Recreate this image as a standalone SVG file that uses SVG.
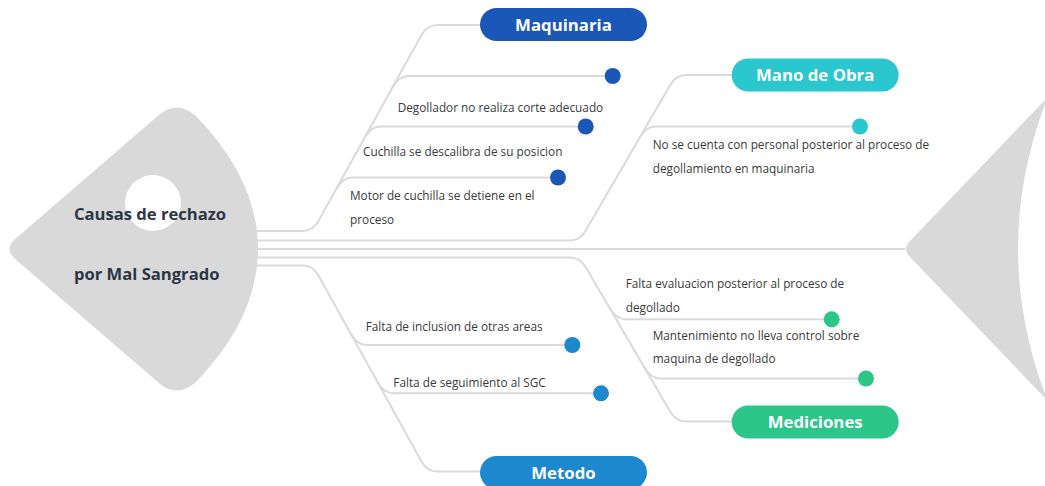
<svg xmlns="http://www.w3.org/2000/svg" width="1045" height="486" viewBox="0 0 1045 486">
  <style>
    .conn { fill: none; stroke: #dadada; stroke-width: 2; }
    .shape { fill: #d9d9d9; }
    .lbl { font-family: "Open Sans", "Liberation Sans", sans-serif; font-size: 11.8px; fill: #3a3a3a; }
    .title { font-family: "Open Sans", "Liberation Sans", sans-serif; font-size: 16.6px; font-weight: bold; fill: #2c3646; }
    .pilltxt { font-family: "Open Sans", "Liberation Sans", sans-serif; font-size: 16.8px; font-weight: bold; fill: #ffffff; text-anchor: middle; }
    .c1 { fill: #1b57b6; }
    .c2 { fill: #2ac7cf; }
    .c3 { fill: #2cc689; }
    .c4 { fill: #1e88cf; }
  </style>
  <rect width="1045" height="486" fill="#ffffff"/>

  <g id="connectors">
    <!-- spine -->
    <path class="conn" d="M 240,249 H 905"/>
    <!-- Maquinaria -->
    <path class="conn" d="M 240,231 H 302 Q 313,231 318.5,221 L 421.5,35 Q 427,25 438,25 H 482"/>
    <path class="conn" d="M 392,88 Q 398.8,76 408,76 H 612"/>
    <path class="conn" d="M 364.2,138.5 Q 370.8,126.5 380,126.5 H 585"/>
    <path class="conn" d="M 336,189.5 Q 342.6,177.5 352,177.5 H 557"/>
    <!-- Mano de Obra -->
    <path class="conn" d="M 240,240.5 H 570 Q 580,240.5 585.8,230.5 L 670.2,85 Q 676,75 686,75 H 733"/>
    <path class="conn" d="M 639.2,138.5 Q 646.1,126.5 655,126.5 H 859"/>
    <!-- Mediciones -->
    <path class="conn" d="M 240,257.5 H 570 Q 580,257.5 585.9,267.5 L 670.1,411.5 Q 676,421.5 686,421.5 H 733"/>
    <path class="conn" d="M 609.2,307.3 Q 616.2,319.3 625,319.3 H 831"/>
    <path class="conn" d="M 643.8,366.5 Q 650.8,378.5 660,378.5 H 866"/>
    <!-- Metodo -->
    <path class="conn" d="M 240,265.5 H 303 Q 313,265.5 318.5,275.5 L 421.5,461.5 Q 427,471.5 437,471.5 H 482"/>
    <path class="conn" d="M 350.4,333 Q 357,345 366,345 H 572"/>
    <path class="conn" d="M 377.1,381.3 Q 383.7,393.3 393,393.3 H 601"/>
  </g>

  <g id="head">
    <path class="shape" d="M 14,240 L 160,114 Q 178,100 196,116 Q 258,180 258,249 Q 258,318 196,382 Q 178,398 160,384 L 14,258 Q 5,249 14,240 Z"/>
    <circle cx="153" cy="203" r="28" fill="#ffffff"/>
    <text class="title" x="74" y="220">Causas de rechazo</text>
    <text class="title" x="74" y="280">por Mal Sangrado</text>
  </g>

  <g id="tail">
    <path class="shape" d="M 1045,100 L 909,242 Q 903,249 909,256 L 1045,398 L 1045,394 Q 991,249 1045,104 Z"/>
  </g>

  <g id="maquinaria">
    <rect class="c1" x="480" y="8" width="167" height="33" rx="16.5"/>
    <text class="pilltxt" x="563.5" y="30.5">Maquinaria</text>
  </g>
  <g id="maq-1">
    <circle class="c1" cx="612.7" cy="76" r="8"/>
    <text class="lbl" x="397.7" y="111.5">Degollador no realiza corte adecuado</text>
  </g>
  <g id="maq-2">
    <circle class="c1" cx="585.7" cy="126.5" r="8"/>
    <text class="lbl" x="363" y="156">Cuchilla se descalibra de su posicion</text>
  </g>
  <g id="maq-3">
    <circle class="c1" cx="558" cy="177.5" r="8"/>
    <text class="lbl" x="350" y="200">Motor de cuchilla se detiene en el</text>
    <text class="lbl" x="350" y="224">proceso</text>
  </g>

  <g id="mano-de-obra">
    <rect class="c2" x="731.7" y="58.5" width="167" height="33" rx="16.5"/>
    <text class="pilltxt" x="815.2" y="81">Mano de Obra</text>
  </g>
  <g id="mano-1">
    <circle class="c2" cx="860" cy="126.5" r="8"/>
    <text class="lbl" x="652.7" y="149.3">No se cuenta con personal posterior al proceso de</text>
    <text class="lbl" x="652.7" y="172.7">degollamiento en maquinaria</text>
  </g>

  <g id="mediciones">
    <rect class="c3" x="731.7" y="405.5" width="167" height="33" rx="16.5"/>
    <text class="pilltxt" x="815.2" y="428">Mediciones</text>
  </g>
  <g id="med-1">
    <circle class="c3" cx="831.7" cy="319.3" r="8"/>
    <text class="lbl" x="625.7" y="288.3">Falta evaluacion posterior al proceso de</text>
    <text class="lbl" x="625.7" y="311.7">degollado</text>
  </g>
  <g id="med-2">
    <circle class="c3" cx="866" cy="378.5" r="8"/>
    <text class="lbl" x="652.7" y="340">Mantenimiento no lleva control sobre</text>
    <text class="lbl" x="652.7" y="363.3">maquina de degollado</text>
  </g>

  <g id="metodo">
    <rect class="c4" x="480" y="456" width="167" height="33" rx="16.5"/>
    <text class="pilltxt" x="563.5" y="478.5">Metodo</text>
  </g>
  <g id="met-1">
    <circle class="c4" cx="572.3" cy="345" r="8"/>
    <text class="lbl" x="365.7" y="330.7">Falta de inclusion de otras areas</text>
  </g>
  <g id="met-2">
    <circle class="c4" cx="601" cy="393.3" r="8"/>
    <text class="lbl" x="393.3" y="386.7">Falta de seguimiento al SGC</text>
  </g>
</svg>
